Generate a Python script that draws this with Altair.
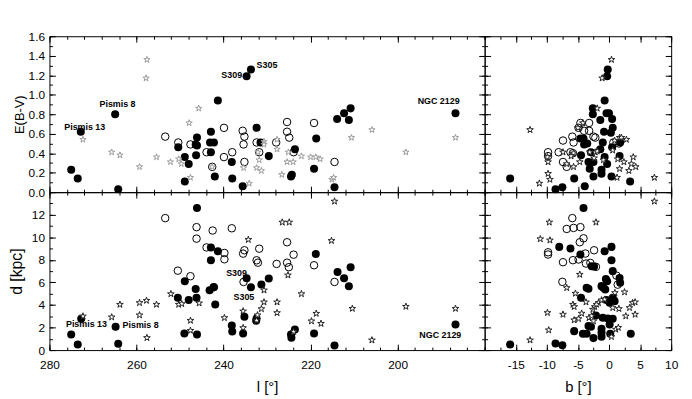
import altair as alt
import pandas as pd

# ---------------- data: top-left  (l, E(B-V)) ----------------
tl_f_l = [275.0, 273.5, 272.8, 264.9, 264.2, 250.4, 248.9, 248.9, 248.0, 246.1, 246.4, 246.1, 246.3,
          242.9, 243.1, 242.2, 242.9, 242.0, 241.3, 238.1, 238.0, 235.6, 234.7, 233.7, 232.4, 231.5,
          229.6, 224.3, 224.5, 223.6, 219.2, 218.7, 214.5, 213.9, 212.3, 211.2, 210.8, 186.7]
tl_f_e = [0.23, 0.14, 0.62, 0.80, 0.03, 0.46, 0.36, 0.11, 0.29, 0.56, 0.49, 0.48, 0.38,
          0.62, 0.51, 0.51, 0.41, 0.16, 0.94, 0.31, 0.14, 0.06, 1.19, 1.26, 0.66, 0.51,
          0.37, 0.18, 0.16, 0.44, 0.24, 0.55, 0.05, 0.75, 0.81, 0.74, 0.86, 0.81]
tl_o_l = [253.4, 250.4, 247.6, 243.9, 242.6, 239.9, 239.9, 238.0, 235.6, 235.2, 235.4, 235.2,
          232.4, 231.8, 227.9, 225.4, 225.4, 224.9, 223.9, 219.2, 214.5]
tl_o_e = [0.57, 0.51, 0.49, 0.41, 0.26, 0.66, 0.36, 0.41, 0.63, 0.57, 0.49, 0.31,
          0.51, 0.41, 0.51, 0.72, 0.62, 0.56, 0.41, 0.71, 0.31]
tl_s_l = [272.3, 265.7, 263.8, 259.3, 257.6, 257.8, 255.4, 252.2, 250.3, 249.7, 247.9, 247.6, 245.7,
          242.6, 235.4, 234.1, 232.1, 230.7, 230.7, 231.8, 232.4, 231.3, 227.7, 227.7, 226.6, 225.4,
          224.0, 225.1, 222.1, 220.0, 218.8, 217.8, 215.1, 214.7, 210.6, 205.9, 198.1, 186.7]
tl_s_e = [0.54, 0.41, 0.38, 0.26, 1.36, 1.17, 0.36, 0.31, 0.34, 0.29, 0.71, 0.15, 0.86,
          0.26, 0.25, 0.09, 0.41, 0.52, 0.49, 0.33, 0.25, 0.22, 0.54, 0.44, 0.18, 0.31,
          0.31, 0.41, 0.37, 0.36, 0.36, 0.34, 0.13, 0.15, 0.56, 0.64, 0.41, 0.56]
tl_t_name = ["Pismis 13", "Pismis 8", "S309", "S305", "NGC 2129"]
tl_t_l = [276.6, 268.5, 240.5, 232.4, 195.4]
tl_t_e = [0.67, 0.906, 1.203, 1.306, 0.936]

# ---------------- data: bottom-left (l, d) ----------------
bl_f_l = [275.0, 273.5, 272.7, 264.8, 264.2, 248.9, 250.5, 248.0, 249.0, 246.4, 246.2, 246.1, 246.1,
          242.9, 242.9, 243.2, 242.3, 241.9, 241.3, 238.1, 238.0, 235.5, 235.2, 234.7, 233.7, 232.4,
          232.5, 231.3, 229.6, 224.5, 224.4, 223.6, 219.2, 218.8, 214.5, 213.8, 212.3, 211.2, 210.8, 186.7]
bl_f_d = [1.38, 0.50, 2.77, 2.06, 0.56, 6.10, 4.63, 4.45, 1.47, 5.42, 4.63, 1.38, 12.6,
          9.10, 7.96, 5.31, 5.58, 4.04, 8.76, 2.18, 1.65, 1.47, 2.95, 6.37, 5.57, 2.80,
          2.60, 5.81, 6.34, 1.38, 1.09, 1.82, 1.47, 8.52, 0.41, 6.93, 6.37, 5.66, 7.35, 2.27]
bl_o_l = [253.4, 250.5, 247.6, 246.2, 246.2, 243.9, 242.5, 242.2, 239.8, 239.8, 238.1, 235.5, 235.2,
          235.4, 232.4, 232.1, 231.8, 227.8, 225.4, 225.4, 225.0, 223.9, 219.2, 214.5]
bl_o_d = [11.7, 7.04, 6.55, 10.9, 9.88, 9.10, 10.6, 5.58, 8.61, 8.05, 10.8, 8.55, 8.85,
          6.04, 7.96, 7.75, 8.99, 7.64, 9.56, 7.75, 7.35, 8.46, 7.52, 6.04]
bl_s_l = [272.3, 265.7, 263.8, 259.3, 259.3, 257.7, 257.6, 255.4, 252.1, 250.3, 249.6, 247.6, 247.6,
          245.6, 239.8, 235.5, 235.5, 234.3, 230.7, 230.7, 231.3, 232.2, 232.4, 227.7, 227.7, 226.5,
          224.9, 225.2, 223.9, 222.1, 219.8, 218.7, 217.6, 215.2, 214.5, 210.4, 205.9, 198.1, 186.7]
bl_s_d = [3.00, 2.92, 4.04, 4.19, 3.10, 4.39, 1.09, 4.04, 4.98, 4.04, 4.10, 2.62, 1.73,
          4.16, 2.86, 3.45, 1.97, 9.79, 5.31, 4.25, 3.65, 3.10, 2.62, 4.25, 3.30, 11.33,
          11.33, 6.64, 1.62, 4.98, 2.57, 3.24, 2.35, 9.70, 13.19, 3.68, 0.88, 3.86, 3.68]
bl_t_name = ["Pismis 13", "Pismis 8", "S309", "S305", "NGC 2129"]
bl_t_l = [276.2, 263.2, 239.4, 237.7, 195.0]
bl_t_d = [2.27, 2.18, 6.81, 4.69, 1.30]

# ---------------- data: top-right (b, E(B-V)) ----------------
tr_f_b = [-15.9, -8.6, -7.5, -5.6, -3.9, -0.7, -0.3, -0.2, -2.6, -2.6, -1.4, -0.4, 0.0, 0.5, 0.6,
          -0.8, 0.3, -4.6, -4.1, -4.0, -3.5, -1.0, 0.5, 1.8, -1.4, -4.5, -0.7, 1.7, -3.3, -2.5,
          -0.3, -3.1, -1.2, -1.2, -2.5, 0.4, 3.4, -2.9]
tr_f_e = [0.14, 0.03, 0.05, 0.14, 0.06, 0.94, 1.19, 1.26, 0.86, 0.80, 0.74, 0.81, 0.81, 0.75, 0.66,
          0.62, 0.61, 0.55, 0.55, 0.49, 0.50, 0.51, 0.46, 0.51, 0.44, 0.38, 0.36, 0.37, 0.31, 0.31,
          0.29, 0.24, 0.23, 0.19, 0.16, 0.16, 0.11, 0.41]
tr_o_b = [-4.6, -3.2, -4.0, -3.2, -5.9, -5.7, -7.4, -8.1, -9.8, -9.8, -7.4, -6.8, -6.2, -5.8,
          -2.5, -2.2, 0.7, 1.6, -4.9]
tr_o_e = [0.71, 0.71, 0.63, 0.63, 0.57, 0.51, 0.53, 0.41, 0.41, 0.37, 0.31, 0.26, 0.41, 0.40,
          0.57, 0.56, 0.51, 0.50, 0.66]
tr_s_b = [0.4, -1.1, -1.9, -12.7, -5.0, -4.2, -11.2, -9.8, -9.5, -9.9, -9.8, -7.4, -5.7, -6.1,
          -6.8, -5.7, -4.7, -3.1, -2.2, -2.4, 0.6, 0.9, 1.7, 2.8, 1.4, 2.4, 3.9, 3.6, 4.3, 3.2,
          1.7, 1.3, 7.3, -0.9, -1.9, 2.0]
tr_s_e = [1.36, 1.17, 0.86, 0.64, 0.66, 0.71, 0.09, 0.19, 0.13, 0.36, 0.31, 0.41, 0.40, 0.37,
          0.29, 0.26, 0.31, 0.41, 0.41, 0.35, 0.43, 0.53, 0.56, 0.54, 0.34, 0.31, 0.36, 0.29, 0.26, 0.22,
          0.24, 0.15, 0.15, 0.33, 0.42, 0.56]

# ---------------- data: bottom-right (b, d) ----------------
br_f_b = [-15.9, -8.6, -7.5, -4.1, -8.0, -6.2, -4.6, -0.7, 0.4, 0.4, -2.8, -2.4, 0.6, 1.7, 1.8,
          -0.5, -0.3, -1.2, -0.9, -0.6, -3.6, -3.3, 0.6, 0.9, -0.4, 0.1, -4.5, -2.1, -1.0, 0.6,
          -0.2, 0.1, -5.6, -4.2, -3.6, -3.3, -2.9, -2.5, -1.2, -1.2, -1.2, 0.2, 3.5]
br_f_d = [0.50, 0.59, 0.42, 12.6, 9.15, 9.00, 8.47, 8.76, 9.15, 7.97, 7.44, 7.40, 7.00, 6.40, 5.96,
          6.30, 6.10, 5.67, 5.52, 5.37, 5.52, 5.43, 4.63, 4.34, 4.43, 4.19, 4.63, 3.07, 2.86, 2.77,
          2.80, 2.27, 1.68, 1.45, 1.45, 2.13, 2.07, 1.06, 1.89, 1.54, 1.18, 1.45, 1.45]
br_o_b = [-5.9, -6.8, -5.7, -4.6, -4.1, -4.7, -9.8, -9.8, -7.4, -5.8, -4.9, -3.8, -2.4, -3.7,
          -3.0, -2.1, -7.5, 1.2, 1.4]
br_o_d = [11.7, 10.74, 10.83, 10.9, 9.91, 9.56, 8.67, 8.47, 7.79, 7.97, 8.03, 8.56, 8.85, 7.67,
          7.73, 7.38, 6.05, 6.60, 5.80]
br_s_b = [-9.6, -2.1, -11.05, -9.5, -4.7, -6.8, -5.4, -3.7, -5.8, -5.6, -4.4, -3.2, -2.8, -5.6,
          -4.9, -1.7, -1.2, -0.7, -2.6, -2.3, -2.0, -2.5, 0.6, 1.6, 2.5, 0.95, 3.3, 3.8, 4.2, 2.7,
          4.2, 1.1, 1.5, 0.4, -9.9, -7.4, -9.7, -12.7, 7.3]
br_s_d = [11.33, 11.33, 9.85, 9.74, 6.70, 5.52, 5.02, 4.25, 4.04, 3.84, 3.25, 2.86, 3.01, 2.66,
          2.77, 4.19, 4.43, 4.49, 3.60, 3.84, 4.04, 2.57, 3.75, 3.66, 5.14, 5.08, 3.75, 4.19, 4.25, 3.01,
          3.16, 1.83, 1.99, 1.18, 3.31, 3.16, 1.77, 0.88, 13.19]

# ---------------- axes / ticks ----------------
l_major = [200, 220, 240, 260, 280]
l_minor = list(range(180, 281, 4))
b_major = [-15, -10, -5, 0, 5, 10]
b_minor = [-20 + 2.5 * i for i in range(13)]
e_major = [round(0.2 * i, 1) for i in range(9)]
e_minor = [round(0.1 * i, 1) for i in range(17)]
d_major = [0, 2, 4, 6, 8, 10, 12]
d_minor = list(range(0, 15))

FONT = "Liberation Sans"
STAR = ("M0,-1L0.2245,-0.309L0.9511,-0.309L0.3633,0.118L0.5878,0.809L0,0.382"
        "L-0.5878,0.809L-0.3633,0.118L-0.9511,-0.309L-0.2245,-0.309Z")
MAJ, MIN = 6, 3


def axis(orient, values, size, labels=False, fmt=None, expr=None, title=None,
         lpad=5, tpad=4, tsize=15):
    kw = dict(orient=orient, values=values, tickSize=size, offset=-size, domain=False,
              grid=False, ticks=True, tickColor="black", tickWidth=1, labels=labels)
    if labels:
        kw.update(labelFontSize=12, labelColor="black", labelFont=FONT, labelPadding=lpad,
                  labelFlush=False, labelOverlap=False)
        if fmt:
            kw["format"] = fmt
        if expr:
            kw["labelExpr"] = expr
    if title:
        kw.update(title=title, titleFontSize=tsize, titleFontWeight="normal", titleFont=FONT,
                  titleColor="black", titlePadding=tpad)
    else:
        kw["title"] = None
    return alt.Axis(**kw)


def panel(f, o, s, t, xdom, ydom, xrev, xmaj, xmin, ymaj, ymin, w, h,
          star_stroke, star_size, xlab, ylab, xtitle, ytitle, yfmt, xexpr, ytpad, ytsize=15,
          xlpad=10):
    xs = alt.Scale(domain=xdom, nice=False, zero=False, reverse=xrev)
    ys = alt.Scale(domain=ydom, nice=False, zero=False)

    def XY(ax, ay):
        return dict(x=alt.X("x:Q", scale=xs, axis=ax), y=alt.Y("y:Q", scale=ys, axis=ay))

    fdf = pd.DataFrame({"x": f[0], "y": f[1]})
    odf = pd.DataFrame({"x": o[0], "y": o[1]})
    sdf = pd.DataFrame({"x": s[0], "y": s[1]})
    base = alt.Chart(fdf)
    layers = [
        base.mark_point(opacity=0).encode(**XY(
            axis("bottom", xmaj, MAJ, labels=xlab, expr=xexpr, title=xtitle, lpad=xlpad, tpad=9),
            axis("left", ymaj, MAJ, labels=ylab, fmt=yfmt, title=ytitle, lpad=5, tpad=ytpad,
                 tsize=ytsize))),
        base.mark_point(opacity=0).encode(**XY(axis("bottom", xmin, MIN), axis("left", ymin, MIN))),
        base.mark_point(opacity=0).encode(**XY(axis("top", xmaj, MAJ), axis("right", ymaj, MAJ))),
        base.mark_point(opacity=0).encode(**XY(axis("top", xmin, MIN), axis("right", ymin, MIN))),
        alt.Chart(odf).mark_point(shape="circle", filled=False, stroke="black", strokeWidth=1,
                                  size=58, opacity=1).encode(**XY(None, None)),
        alt.Chart(fdf).mark_point(shape="circle", filled=True, fill="black", size=66,
                                  opacity=1).encode(**XY(None, None)),
        alt.Chart(sdf).mark_point(shape=STAR, filled=True, fill="white", stroke=star_stroke,
                                  strokeWidth=1, size=star_size, opacity=1).encode(**XY(None, None)),
    ]
    if t is not None:
        tdf = pd.DataFrame({"x": t[1], "y": t[2], "name": t[0]})
        layers.append(alt.Chart(tdf).mark_text(align="left", baseline="middle", font=FONT,
                                               fontSize=9, fontWeight="bold", color="black")
                      .encode(**XY(None, None), text="name:N"))
    return alt.layer(*layers).resolve_axis(x="independent", y="independent").properties(
        width=w, height=h)


neg_expr = "datum.value < 0 ? '-' + abs(datum.value) : '' + datum.value"

tl = panel((tl_f_l, tl_f_e), (tl_o_l, tl_o_e), (tl_s_l, tl_s_e), (tl_t_name, tl_t_l, tl_t_e),
           [180, 280], [0, 1.6], True, l_major, l_minor, e_major, e_minor, 441, 158,
           "#999999", 44, False, True, None, "E(B-V)", ".1f", None, 2, ytsize=13)
tr = panel((tr_f_b, tr_f_e), (tr_o_b, tr_o_e), (tr_s_b, tr_s_e), None,
           [-20, 10], [0, 1.6], False, b_major, b_minor, e_major, e_minor, 189, 158,
           "#222222", 50, False, False, None, None, None, None, 4)
bl = panel((bl_f_l, bl_f_d), (bl_o_l, bl_o_d), (bl_s_l, bl_s_d), (bl_t_name, bl_t_l, bl_t_d),
           [180, 280], [0, 14], True, l_major, l_minor, d_major, d_minor, 441, 160,
           "#222222", 50, True, True, "l [°]", "d [kpc]", "d", None, 7, ytsize=16)
br = panel((br_f_b, br_f_d), (br_o_b, br_o_d), (br_s_b, br_s_d), None,
           [-20, 10], [0, 14], False, b_major, b_minor, d_major, d_minor, 189, 160,
           "#222222", 50, True, False, "b [°]", None, None, neg_expr, 4)

chart = alt.concat(tl, tr, bl, br, columns=2, spacing=0, bounds="flush").properties(
    padding={"left": 0, "top": 19, "right": 5, "bottom": 5}
).configure(font=FONT).configure_view(stroke="black", strokeWidth=1)

chart.save("out.html", embed_options={"renderer": "svg", "actions": False})
